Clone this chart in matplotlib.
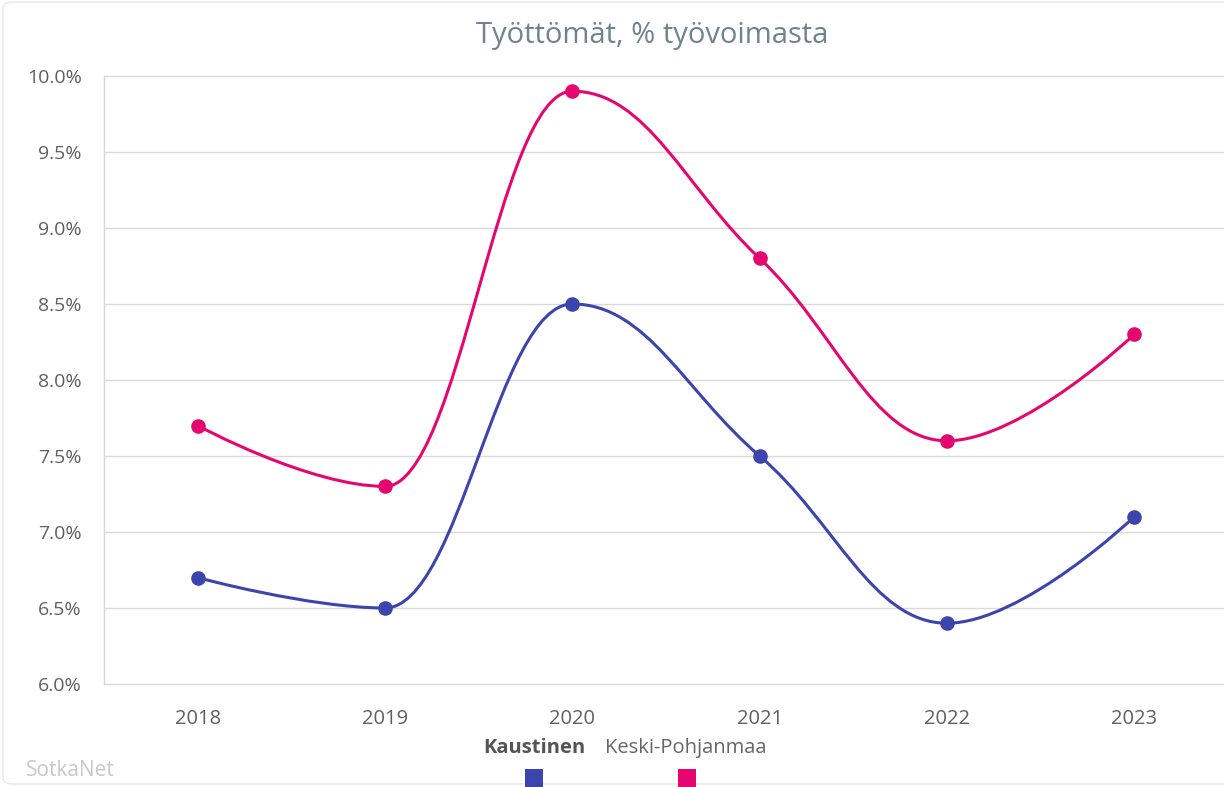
import numpy as np
import matplotlib
matplotlib.use("Agg")
import matplotlib.pyplot as plt
from matplotlib.path import Path
from matplotlib.patches import PathPatch, FancyBboxPatch, Rectangle

years = ["2018", "2019", "2020", "2021", "2022", "2023"]
kaustinen = [6.7, 6.5, 8.5, 7.5, 6.4, 7.1]
keski_pohjanmaa = [7.7, 7.3, 9.9, 8.8, 7.6, 8.3]
series_names = ["Kaustinen", "Keski-Pohjanmaa"]
series_colors = ["#3c44ad", "#e5076f"]
title = "Työttömät, % työvoimasta"
yticks = [6.0, 6.5, 7.0, 7.5, 8.0, 8.5, 9.0, 9.5, 10.0]

plt.rcParams['font.family'] = ['Open Sans', 'DejaVu Sans']

W, H = 1224, 787
fig = plt.figure(figsize=(W / 100, H / 100), dpi=100)

# outer faint border
fig.patches.append(FancyBboxPatch((3 / W, 3 / H), (W + 20) / W, (H - 5) / H,
                                  boxstyle="round,pad=0,rounding_size=0.008",
                                  transform=fig.transFigure, fill=False,
                                  edgecolor="#e8e8e8", linewidth=1.0))

left, right, top, bottom = 104, 1228, 76, 684
ax = fig.add_axes([left / W, 1 - bottom / H, (right - left) / W, (bottom - top) / H])

x = np.arange(len(years))
ax.set_xlim(-0.5, len(years) - 0.5)
ax.set_ylim(6.0, 10.0)


def spline_path(xs, ys, smoothing=1.5):
    denom = smoothing + 1
    n = len(xs)
    lc = [None] * n
    rc = [None] * n
    for i in range(1, n - 1):
        px, py = xs[i], ys[i]
        lx, ly = xs[i - 1], ys[i - 1]
        nx, ny = xs[i + 1], ys[i + 1]
        lcx = (smoothing * px + lx) / denom
        lcy = (smoothing * py + ly) / denom
        rcx = (smoothing * px + nx) / denom
        rcy = (smoothing * py + ny) / denom
        if rcx != lcx:
            corr = ((rcy - lcy) * (rcx - px)) / (rcx - lcx) + py - rcy
            lcy += corr
            rcy += corr
        if lcy > ly and lcy > py:
            lcy = max(ly, py)
            rcy = 2 * py - lcy
        elif lcy < ly and lcy < py:
            lcy = min(ly, py)
            rcy = 2 * py - lcy
        if rcy > ny and rcy > py:
            rcy = max(ny, py)
            lcy = 2 * py - rcy
        elif rcy < ny and rcy < py:
            rcy = min(ny, py)
            lcy = 2 * py - rcy
        lc[i] = (lcx, lcy)
        rc[i] = (rcx, rcy)
    verts = [(xs[0], ys[0])]
    codes = [Path.MOVETO]
    for i in range(1, n):
        c1 = rc[i - 1] if rc[i - 1] is not None else (xs[i - 1], ys[i - 1])
        c2 = lc[i] if lc[i] is not None else (xs[i], ys[i])
        verts += [c1, c2, (xs[i], ys[i])]
        codes += [Path.CURVE4] * 3
    return Path(verts, codes)


# gridlines
for yv in yticks:
    ax.axhline(yv, color="#dadada", linewidth=1.0, zorder=1, clip_on=False)

for vals, col in zip([kaustinen, keski_pohjanmaa], series_colors):
    p = spline_path(list(x.astype(float)), vals)
    ax.add_patch(PathPatch(p, facecolor="none", edgecolor=col, linewidth=2.2,
                           zorder=3, capstyle="round", joinstyle="round",
                           clip_on=False))
    ax.plot(x, vals, linestyle="none", marker="o", markersize=9.5,
            color=col, zorder=4, clip_on=False)

for s in ["top", "right", "bottom"]:
    ax.spines[s].set_visible(False)
ax.spines["left"].set_color("#d6d6d6")
ax.spines["left"].set_linewidth(1.0)

ax.set_xticks(x)
ax.set_xticklabels(years)
ax.set_yticks(yticks)
ax.set_yticklabels([f"{v:.1f}%" for v in yticks])
ax.tick_params(axis="both", length=0, labelsize=14, colors="#606060")
ax.tick_params(axis="x", pad=18, labelsize=14.5)
ax.tick_params(axis="y", pad=16)

fig.text(652 / W, 1 - 36 / H, title, ha="center", va="center",
         fontsize=21, color="#6f8390")

# legend
fig.text(534 / W, 1 - 748 / H, series_names[0], ha="center", va="center",
         fontsize=14.5, fontweight="bold", color="#555555")
fig.text(686 / W, 1 - 748 / H, series_names[1], ha="center", va="center",
         fontsize=14.5, color="#666666")
for cx, col in zip([534, 687], series_colors):
    fig.patches.append(Rectangle(((cx - 9) / W, 1 - 787 / H), 18 / W, 18 / H,
                                 transform=fig.transFigure, facecolor=col,
                                 edgecolor="none"))

fig.text(26 / W, 1 - 770 / H, "SotkaNet", ha="left", va="center",
         fontsize=15, color="#c8c8c8")

fig.savefig("out.png", dpi=100)
